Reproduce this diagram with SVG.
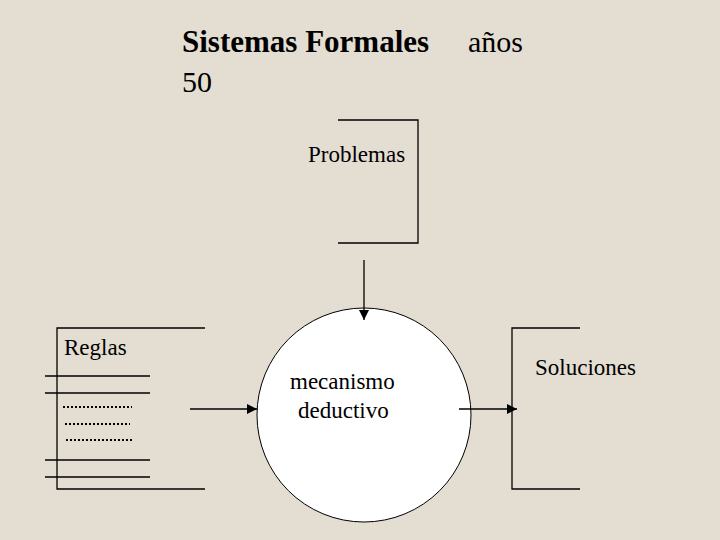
<svg xmlns="http://www.w3.org/2000/svg" width="720" height="540" viewBox="0 0 720 540">
<style>
.l{stroke:#000;stroke-width:1.3;fill:none}
.t{font-family:"Liberation Serif","Times New Roman",serif;fill:#000}
</style>
<defs><marker id="a" markerWidth="10" markerHeight="10" refX="10" refY="5" orient="auto" markerUnits="userSpaceOnUse"><path d="M0,0L10,5L0,10z" fill="#000"/></marker></defs>
<rect width="720" height="540" fill="#e4ddd2"/>
<text class="t" x="182" y="52" font-size="31" font-weight="bold">Sistemas Formales</text>
<text class="t" x="468" y="52" font-size="30">años</text>
<text class="t" x="182" y="92" font-size="30">50</text>
<g id="problemas"><path class="l" d="M338,120H418V243H338"/><text class="t" x="308" y="162" font-size="23">Problemas</text></g>
<g id="reglas"><path class="l" d="M205,328H57V489H205M45,376H150M45,393H150M45,460H150M45,477H150"/>
<text class="t" x="64" y="355" font-size="23">Reglas</text>
<path d="M63,407H132M65,424H130M66,440H132" stroke="#000" stroke-width="2" stroke-dasharray="2,2"/></g>
<g id="mecanismo"><circle cx="364" cy="415" r="107" fill="#fff" stroke="#000" stroke-width="1"/>
<text class="t" x="290" y="389" font-size="23">mecanismo</text><text class="t" x="298" y="418" font-size="23">deductivo</text></g>
<g id="soluciones"><path class="l" d="M580,328H512V489H580"/><text class="t" x="535" y="375" font-size="23">Soluciones</text></g>
<g id="connectors"><path class="l" stroke-width="2" d="M364,260V320" marker-end="url(#a)"/><path class="l" stroke-width="2" d="M190,409H257" marker-end="url(#a)"/><path class="l" stroke-width="2" d="M459,409H517" marker-end="url(#a)"/></g>
</svg>
